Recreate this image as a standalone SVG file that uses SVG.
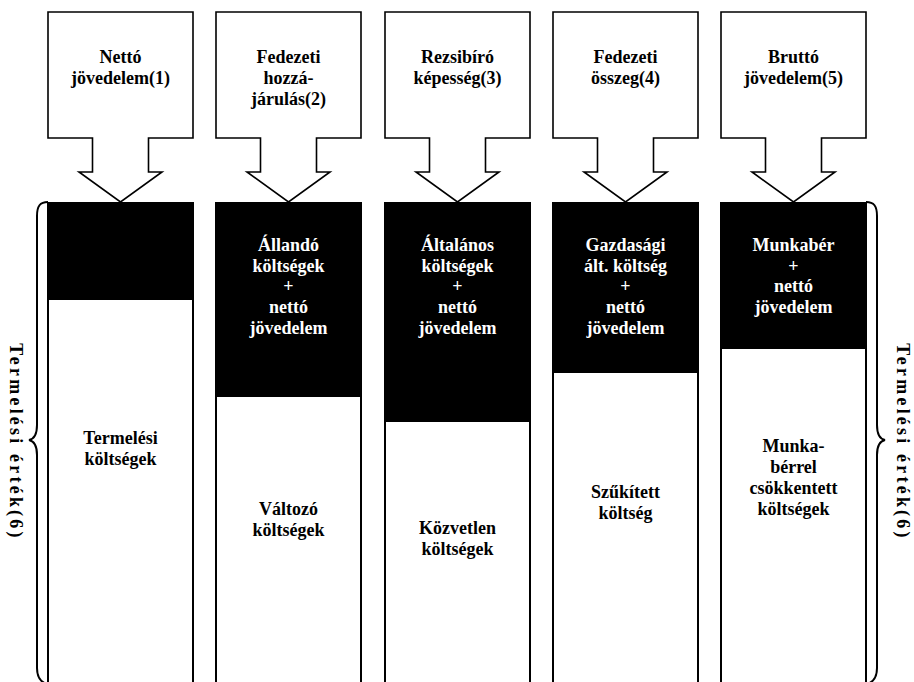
<svg xmlns="http://www.w3.org/2000/svg" width="914" height="682" viewBox="0 0 914 682">
<style>
.t{font-family:"Liberation Serif","Times New Roman",serif;font-weight:bold;font-size:18px;text-anchor:middle;fill:#000}
.w{fill:#fff}
.v{font-family:"Liberation Serif","Times New Roman",serif;font-weight:bold;font-size:18px;letter-spacing:3.2px;text-anchor:middle;fill:#000}
.box{fill:#fff;stroke:#000;stroke-width:1.6}
.col{fill:none;stroke:#000;stroke-width:2}
.blk{fill:#000}
.br{fill:none;stroke:#000;stroke-width:2}
</style>
<defs>
<path id="arrowbox" class="box" d="M0,12 H145 V138 H100.5 V172 H114 L72.5,202 L31,172 H44.5 V138 H0 Z"/>
</defs>
<rect width="914" height="682" fill="#fff"/>
<g id="connectors">
<path class="br" d="M48,202 C40,202 37,206 37,216 V425 C37,434 34,439 29,440 C34,441 37,446 37,455 V668 C37,677 40,682 47,684"/>
<path class="br" d="M866,202 C874,202 877,206 877,216 V425 C877,434 880,439 885,440 C880,441 877,446 877,455 V668 C877,677 874,682 867,684"/>
</g>
<g id="col1">
<use href="#arrowbox" x="48"/>
<rect class="blk" x="48" y="202" width="145" height="98"/>
<path class="col" d="M48,202 V690 M193,202 V690"/>
<text class="t" x="120.5" y="63">Nettó</text>
<text class="t" x="120.5" y="84">jövedelem(1)</text>
<text class="t" x="120.5" y="444">Termelési</text>
<text class="t" x="120.5" y="465">költségek</text>
</g>
<g id="col2">
<use href="#arrowbox" x="216"/>
<rect class="blk" x="216" y="202" width="145" height="195"/>
<path class="col" d="M216,202 V690 M361,202 V690"/>
<text class="t" x="288.5" y="63">Fedezeti</text>
<text class="t" x="288.5" y="84">hozzá-</text>
<text class="t" x="288.5" y="105">járulás(2)</text>
<text class="t w" x="288.5" y="251">Állandó</text>
<text class="t w" x="288.5" y="272">költségek</text>
<text class="t w" x="288.5" y="292">+</text>
<text class="t w" x="288.5" y="313">nettó</text>
<text class="t w" x="288.5" y="334">jövedelem</text>
<text class="t" x="288.5" y="515">Változó</text>
<text class="t" x="288.5" y="536">költségek</text>
</g>
<g id="col3">
<use href="#arrowbox" x="385"/>
<rect class="blk" x="385" y="202" width="145" height="220"/>
<path class="col" d="M385,202 V690 M530,202 V690"/>
<text class="t" x="457.5" y="63">Rezsibíró</text>
<text class="t" x="457.5" y="84">képesség(3)</text>
<text class="t w" x="457.5" y="251">Általános</text>
<text class="t w" x="457.5" y="272">költségek</text>
<text class="t w" x="457.5" y="292">+</text>
<text class="t w" x="457.5" y="313">nettó</text>
<text class="t w" x="457.5" y="334">jövedelem</text>
<text class="t" x="457.5" y="534">Közvetlen</text>
<text class="t" x="457.5" y="555">költségek</text>
</g>
<g id="col4">
<use href="#arrowbox" x="553"/>
<rect class="blk" x="553" y="202" width="145" height="171"/>
<path class="col" d="M553,202 V690 M698,202 V690"/>
<text class="t" x="625.5" y="63">Fedezeti</text>
<text class="t" x="625.5" y="84">összeg(4)</text>
<text class="t w" x="625.5" y="251">Gazdasági</text>
<text class="t w" x="625.5" y="272">ált. költség</text>
<text class="t w" x="625.5" y="292">+</text>
<text class="t w" x="625.5" y="313">nettó</text>
<text class="t w" x="625.5" y="334">jövedelem</text>
<text class="t" x="625.5" y="498">Szűkített</text>
<text class="t" x="625.5" y="519">költség</text>
</g>
<g id="col5">
<use href="#arrowbox" x="721"/>
<rect class="blk" x="721" y="202" width="145" height="147"/>
<path class="col" d="M721,202 V690 M866,202 V690"/>
<text class="t" x="793.5" y="63">Bruttó</text>
<text class="t" x="793.5" y="84">jövedelem(5)</text>
<text class="t w" x="793.5" y="251">Munkabér</text>
<text class="t w" x="793.5" y="272">+</text>
<text class="t w" x="793.5" y="292">nettó</text>
<text class="t w" x="793.5" y="313">jövedelem</text>
<text class="t" x="793.5" y="452">Munka-</text>
<text class="t" x="793.5" y="473">bérrel</text>
<text class="t" x="793.5" y="494">csökkentett</text>
<text class="t" x="793.5" y="515">költségek</text>
</g>
<g id="label-left">
<text class="v" transform="translate(10,442) rotate(90)">Termelési érték(6)</text>
</g>
<g id="label-right">
<text class="v" transform="translate(897,442) rotate(90)">Termelési érték(6)</text>
</g>
</svg>
